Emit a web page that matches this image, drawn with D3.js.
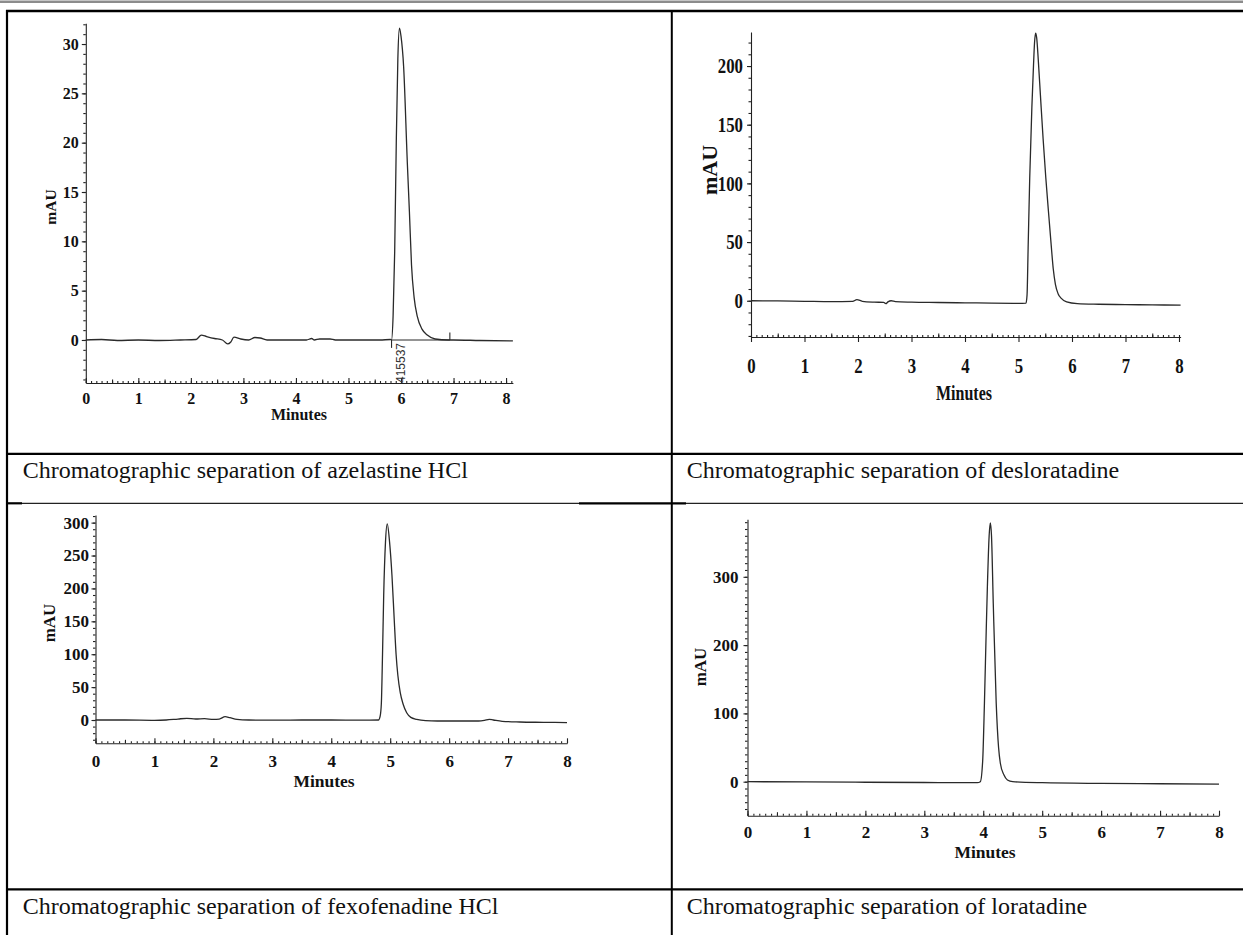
<!DOCTYPE html>
<html>
<head>
<meta charset="utf-8">
<script src="https://cdn.jsdelivr.net/npm/d3@7"></script>
<style>
  html, body { margin: 0; padding: 0; background: #fff; }
  svg { display: block; }
  .cap { font-family: "Liberation Serif", "Times New Roman", serif; font-size: 24px; fill: #111; }
</style>
</head>
<body>
<svg id="chart" width="1243" height="935"></svg>
<script>
// ---- data (time in minutes, absorbance in mAU) ----
const timeTicks = [0, 1, 2, 3, 4, 5, 6, 7, 8];

const azelastineTicks = [0, 5, 10, 15, 20, 25, 30];
const desloratadineTicks = [0, 50, 100, 150, 200];
const fexofenadineTicks = [0, 50, 100, 150, 200, 250, 300];
const loratadineTicks = [0, 100, 200, 300];

const captions = [
  "Chromatographic separation of azelastine HCl",
  "Chromatographic separation of desloratadine",
  "Chromatographic separation of fexofenadine HCl",
  "Chromatographic separation of loratadine"
];

const azelastineTrace = [
  [0, 0], [0.3, 0.05], [0.6, -0.05], [1.0, 0], [1.4, -0.05], [1.8, 0], [2.1, 0.05],
  [2.2, 0.5], [2.3, 0.35], [2.45, 0.15], [2.6, 0], [2.7, -0.4], [2.76, -0.2], [2.82, 0.3],
  [2.95, 0.1], [3.1, 0], [3.22, 0.25], [3.32, 0.2], [3.45, 0], [3.8, 0], [4.2, 0],
  [4.3, 0.15], [4.35, 0], [4.45, 0.1], [4.65, 0.1], [4.75, 0], [5.2, 0], [5.6, 0], [5.8, 0.05],
  [5.82, 0], [5.85, 2.5], [5.88, 9], [5.91, 20], [5.94, 28.5], [5.97, 31.6], [6.0, 30.8],
  [6.05, 27.7], [6.12, 18], [6.16, 13], [6.2, 7.6], [6.25, 4.3], [6.31, 2.4], [6.4, 1.1],
  [6.5, 0.5], [6.65, 0.1], [6.9, 0], [7.0, 0], [7.5, -0.05], [8.13, -0.1]
];
// integration baseline and event marks of the azelastine run
const azelastineBaseline = [[5.82, 0], [6.93, 0]];
const azelastineEvents = [[5.82, 0, -0.8], [6.93, 0, 0.75]];
const azelastinePeakLabel = { t: 6.0, text: "415537" };

const desloratadineTrace = [
  [0, 0], [0.5, -0.2], [1.0, -0.5], [1.5, -0.8], [1.9, -0.6], [1.98, 1], [2.08, -0.5],
  [2.3, -1.2], [2.48, -1.4], [2.52, -2.5], [2.56, -1], [2.62, 0], [2.7, -0.8], [3.0, -1.2],
  [3.5, -1.5], [4.0, -1.8], [4.5, -2], [5.0, -2.2], [5.14, -2], [5.16, 5], [5.18, 45],
  [5.21, 105], [5.25, 165], [5.28, 200], [5.3, 220], [5.32, 228], [5.34, 224], [5.37, 205],
  [5.41, 175], [5.46, 138], [5.51, 105], [5.56, 76], [5.61, 48], [5.65, 27], [5.69, 14],
  [5.74, 6], [5.8, 2], [5.9, -1], [6.1, -2.5], [6.5, -3], [7.0, -3.3], [7.5, -3.5], [8.03, -3.8]
];

const fexofenadineTrace = [
  [0, 0], [0.5, 0], [1.0, -0.5], [1.2, 0], [1.4, 1.5], [1.55, 2.5], [1.7, 1.5], [1.85, 2],
  [2.0, 1], [2.1, 1.5], [2.2, 5], [2.28, 3.5], [2.4, 1], [2.6, 0], [3.0, -0.3], [3.5, 0],
  [4.0, 0], [4.5, -0.3], [4.8, 0], [4.83, 6], [4.85, 25], [4.87, 100], [4.89, 190],
  [4.92, 270], [4.95, 298], [4.99, 270], [5.03, 220], [5.07, 150], [5.1, 100], [5.13, 68],
  [5.17, 42], [5.22, 24], [5.28, 11], [5.35, 4], [5.45, 1], [5.6, -1], [5.8, -1.5],
  [6.0, -1.5], [6.5, -1.5], [6.6, -0.5], [6.68, 1], [6.75, 0], [6.9, -2], [7.2, -3],
  [7.6, -3.5], [8.0, -4]
];

const loratadineTrace = [
  [0, 0], [1, -0.3], [2, -0.8], [3, -1.2], [3.9, -1.5], [3.95, 0], [3.99, 30], [4.02, 115],
  [4.05, 220], [4.07, 285], [4.1, 360], [4.12, 379], [4.14, 360], [4.17, 261], [4.22, 115],
  [4.26, 50], [4.29, 27], [4.35, 10], [4.41, 2.5], [4.5, 0], [5, -1.5], [6, -2.5], [7, -3],
  [8, -3.5]
];

// ---- layout ----
const serif = '"Liberation Serif", "Times New Roman", serif';
const svg = d3.select("#chart");

const panels = [
  { trace: azelastineTrace, ticks: azelastineTicks, xMax: 8.13, x0: 85.8, x1: 512.9,
    yMin: -4.36, yMax: 32.1, yBottom: 383, yTop: 23.3, yMinor: 1,
    font: 16, squeeze: 1, xTickDir: -1, xPad: 10, yGap: 7,
    mAU: [50.6, 207, 15.5], minutes: [299, 420, 16] },
  { trace: desloratadineTrace, ticks: desloratadineTicks, xMax: 8.03, x0: 751, x1: 1180.6,
    yMin: -30.9, yMax: 229, yBottom: 337, yTop: 32, yMinor: 10,
    font: 21, squeeze: 0.8, xTickDir: 1, xPad: 16, yGap: 8,
    mAU: [709, 170, 22], minutes: [964, 400, 20] },
  { trace: fexofenadineTrace, ticks: fexofenadineTicks, xMax: 8, x0: 95.5, x1: 567,
    yMin: -35.4, yMax: 311.6, yBottom: 743.3, yTop: 515, yMinor: 10,
    font: 17, squeeze: 1, xTickDir: -1, xPad: 12, yGap: 6.5,
    mAU: [49, 623, 17], minutes: [324, 787, 17.5] },
  { trace: loratadineTrace, ticks: loratadineTicks, xMax: 8, x0: 747.5, x1: 1219,
    yMin: -49.8, yMax: 384.2, yBottom: 815.7, yTop: 519.3, yMinor: 10,
    font: 17, squeeze: 1, xTickDir: -1, xPad: 10.5, yGap: 9,
    mAU: [700, 667, 17], minutes: [985, 858, 17.5] }
];

function styleAxis(g) {
  g.selectAll("path, line").attr("stroke", "#222").attr("stroke-width", 1.1);
}

function drawPanel(p, i) {
  const g = svg.append("g").attr("class", "panel-" + i);
  const x = d3.scaleLinear().domain([0, p.xMax]).range([p.x0, p.x1]);
  const y = d3.scaleLinear().domain([p.yMin, p.yMax]).range([p.yBottom, p.yTop]);

  // minor time ticks every 0.1 min and half-minute ticks
  g.append("g")
    .attr("transform", `translate(0,${p.yBottom})`)
    .call(d3.axisBottom(x).tickValues(d3.range(0, p.xMax + 1e-6, 0.1)).tickSize(-2).tickFormat(""))
    .call(a => a.select(".domain").remove())
    .call(styleAxis);
  g.append("g")
    .attr("transform", `translate(0,${p.yBottom})`)
    .call(d3.axisBottom(x).tickValues(d3.range(0.5, p.xMax, 1)).tickSize(-3.5).tickFormat(""))
    .call(a => a.select(".domain").remove())
    .call(styleAxis);

  // major time axis
  const xAxis = g.append("g")
    .attr("transform", `translate(0,${p.yBottom})`)
    .call(d3.axisBottom(x).tickValues(timeTicks).tickSizeInner(5 * p.xTickDir)
      .tickSizeOuter(0).tickPadding(p.xPad).tickFormat(d3.format("d")))
    .call(styleAxis);
  xAxis.selectAll("text")
    .attr("font-family", serif).attr("font-size", p.font).attr("font-weight", "bold")
    .attr("fill", "#111")
    .attr("transform", `scale(${p.squeeze},1)`);

  // minor absorbance ticks
  g.append("g")
    .attr("transform", `translate(${p.x0},0)`)
    .call(d3.axisLeft(y)
      .tickValues(d3.range(Math.ceil(p.yMin / p.yMinor) * p.yMinor, p.yMax, p.yMinor))
      .tickSize(2.5).tickFormat(""))
    .call(a => a.select(".domain").remove())
    .call(styleAxis);

  const yAxis = g.append("g")
    .attr("transform", `translate(${p.x0},0)`)
    .call(d3.axisLeft(y).tickValues(p.ticks).tickSizeInner(4).tickSizeOuter(0))
    .call(styleAxis);
  yAxis.selectAll("text")
    .attr("font-family", serif).attr("font-size", p.font).attr("font-weight", "bold")
    .attr("fill", "#111")
    .attr("x", -p.yGap / p.squeeze)
    .attr("transform", `scale(${p.squeeze},1)`);

  // axis titles
  g.append("text")
    .attr("transform", `translate(${p.mAU[0]},${p.mAU[1]}) rotate(-90)`)
    .attr("text-anchor", "middle").attr("dy", "0.35em")
    .attr("font-family", serif).attr("font-size", p.mAU[2]).attr("font-weight", "bold")
    .attr("fill", "#111")
    .text("mAU");
  g.append("text")
    .attr("transform", `translate(${p.minutes[0]},${p.minutes[1]}) scale(${p.squeeze},1)`)
    .attr("text-anchor", "middle")
    .attr("font-family", serif).attr("font-size", p.minutes[2]).attr("font-weight", "bold")
    .attr("fill", "#111")
    .text("Minutes");

  // chromatogram
  const line = d3.line().x(d => x(d[0])).y(d => y(d[1])).curve(d3.curveMonotoneX);
  g.append("path")
    .datum(p.trace)
    .attr("fill", "none")
    .attr("stroke", "#2a2a2a")
    .attr("stroke-width", 1.3)
    .attr("stroke-linejoin", "round")
    .attr("d", line);

  return { g, x, y };
}

const drawn = panels.map(drawPanel);

// integration marks on the azelastine run
{
  const { g, x, y } = drawn[0];
  g.append("path")
    .datum(azelastineBaseline)
    .attr("fill", "none").attr("stroke", "#2a2a2a").attr("stroke-width", 1.1)
    .attr("d", d3.line().x(d => x(d[0])).y(d => y(d[1])));
  g.selectAll(".event")
    .data(azelastineEvents)
    .enter().append("line")
    .attr("class", "event")
    .attr("x1", d => x(d[0])).attr("x2", d => x(d[0]))
    .attr("y1", d => y(d[1])).attr("y2", d => y(d[2]))
    .attr("stroke", "#2a2a2a").attr("stroke-width", 1.1);
  g.append("text")
    .attr("transform", `translate(${x(azelastinePeakLabel.t) + 4},${y(0) + 3}) rotate(-90)`)
    .attr("text-anchor", "end")
    .attr("font-family", '"Liberation Sans", Arial, sans-serif')
    .attr("font-size", 12)
    .attr("fill", "#333")
    .text(azelastinePeakLabel.text);
}

// ---- table frame ----
const frame = svg.append("g").attr("class", "frame");
function rule(x1, y1, x2, y2, w, c) {
  frame.append("line").attr("x1", x1).attr("y1", y1).attr("x2", x2).attr("y2", y2)
    .attr("stroke", c || "#000").attr("stroke-width", w);
}
rule(0, 1.8, 1243, 1.8, 2.5, "#8c8c8c");
rule(6, 11, 1243, 11, 2.5);
rule(7, 10, 7, 935, 2.2);
rule(671.8, 10, 671.8, 935, 2);
rule(7, 453.8, 1243, 453.8, 2.2);
rule(7, 503.3, 22, 503.3, 2.2);
rule(22, 503.3, 579, 503.3, 1.2, "#222");
rule(579, 503.3, 686, 503.3, 2.2);
rule(686, 503.3, 1243, 503.3, 1.2, "#222");
rule(7, 889.3, 1243, 889.3, 2.2);

// ---- captions ----
const capPos = [[22.7, 477.5], [686.7, 477.5], [22.7, 914], [686.7, 914]];
svg.selectAll(".cap")
  .data(captions)
  .enter().append("text")
  .attr("class", "cap")
  .attr("x", (d, i) => capPos[i][0])
  .attr("y", (d, i) => capPos[i][1])
  .text(d => d);
</script>
</body>
</html>
